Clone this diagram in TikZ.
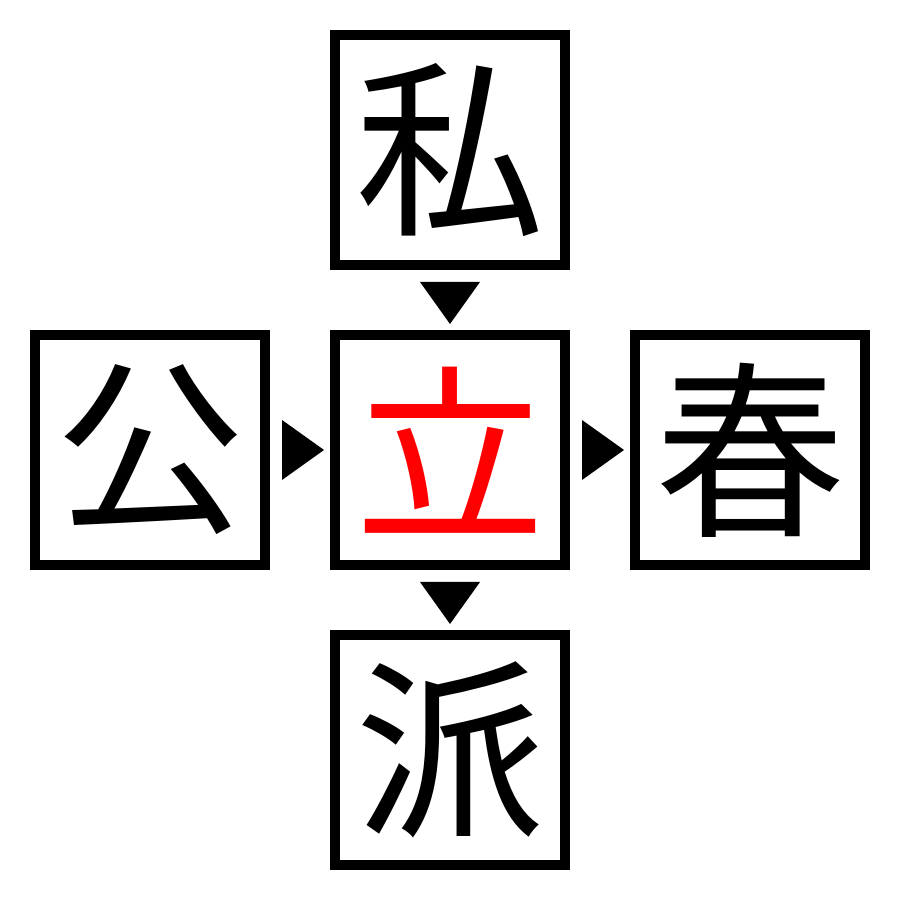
\documentclass[tikz,border=0pt]{standalone}
\usepackage{fontspec}
\newfontfamily\cjk{Noto Sans CJK JP}
\usetikzlibrary{calc}
\tikzset{
    kbox/.style={draw, line width=1mm, minimum size=2.3cm, inner sep=0pt, font=\cjk\fontsize{54}{54}\selectfont}
}
\newcommand{\tridown}[1]{
	\fill (#1)++(-.3, .21)--++(.6, 0)--++(-.3, -.42)--cycle
}
\newcommand{\triright}[1]{
	\fill (#1)++(-.21, .3)--++(0, -.6)--++(.42, .3)--cycle
}

\begin{document}
\begin{tikzpicture}
    \useasboundingbox (0, 0) rectangle (9, 9);
    \node[kbox] (shi) at (4.5, 7.5) {私};
    \node[kbox] (ko) at (1.5, 4.5) {公};
    \node[kbox, text=red] (ritsu) at (4.5, 4.5) {立};
    \node[kbox] (shun) at (7.5, 4.5) {春};
    \node[kbox] (ha) at (4.5, 1.5) {派};
    \tridown{$(shi.south)!.5!(ritsu.north)+(0, -.03)$};
    \tridown{$(ritsu.south)!.5!(ha.north)+(0, -.03)$};
    \triright{$(ko.east)!.5!(ritsu.west)+(.03, 0)$};
    \triright{$(ritsu.east)!.5!(shun.west)+(.03, 0)$};
\end{tikzpicture}
\end{document}
